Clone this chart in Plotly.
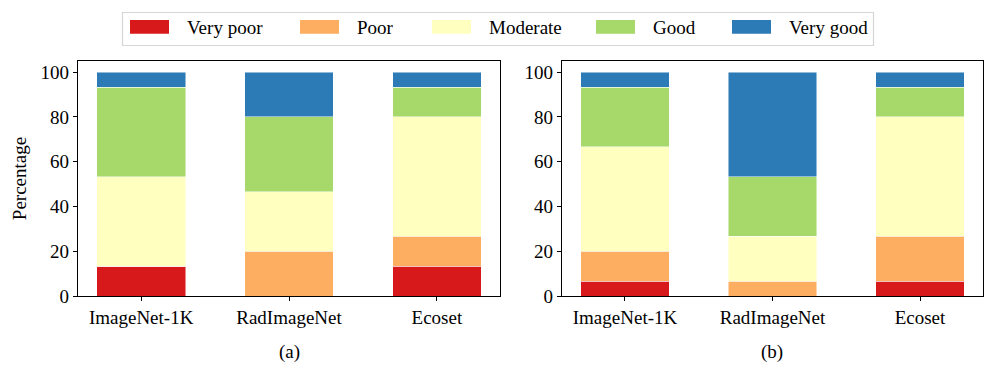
import plotly.graph_objects as go
from plotly.subplots import make_subplots

# data (percent of ratings per category)
datasets = ["ImageNet-1K", "RadImageNet", "Ecoset"]
levels = ["Very poor", "Poor", "Moderate", "Good", "Very good"]
colors = ["#d7191c", "#fdae61", "#ffffbf", "#a6d96a", "#2c7bb6"]

# panel (a)
a_very_poor = [13.33, 0.0, 13.33]
a_poor = [0.0, 20.0, 13.33]
a_moderate = [40.0, 26.67, 53.33]
a_good = [40.0, 33.33, 13.33]
a_very_good = [6.67, 20.0, 6.67]

# panel (b)
b_very_poor = [6.67, 0.0, 6.67]
b_poor = [13.33, 6.67, 20.0]
b_moderate = [46.67, 20.0, 53.33]
b_good = [26.67, 26.67, 13.33]
b_very_good = [6.67, 46.67, 6.67]

panel_a = [a_very_poor, a_poor, a_moderate, a_good, a_very_good]
panel_b = [b_very_poor, b_poor, b_moderate, b_good, b_very_good]

FONT = "Liberation Serif, Times New Roman, serif"
FS = 19
W, H = 996, 374
OFF = 8  # page body margin


# window pixel -> paper coords (plot area spans window y 61..296, x 8..1004)
def px(wx):
    return (wx - OFF) / W


def py(wy):
    return (296 - wy) / 235


fig = make_subplots(rows=1, cols=2)

for col, panel in ((1, panel_a), (2, panel_b)):
    for name, color, vals in zip(levels, colors, panel):
        fig.add_trace(
            go.Bar(
                x=datasets, y=vals, name=name,
                marker=dict(color=color, line=dict(color="rgba(255,255,255,0.6)", width=0.8)),
                width=0.6, showlegend=False,
            ),
            row=1, col=col,
        )

fig.update_layout(
    barmode="stack",
    width=W, height=H,
    margin=dict(l=0, r=0, t=61 - OFF, b=H - (296 - OFF), autoexpand=False),
    plot_bgcolor="white", paper_bgcolor="white",
    font=dict(family=FONT, size=FS, color="black"),
)

axis_common = dict(
    showline=True, linecolor="black", linewidth=1.2, mirror=True,
    ticks="outside", ticklen=4, tickcolor="black", showgrid=False,
    zeroline=False, tickfont=dict(size=FS),
)
fig.update_xaxes(**axis_common, range=[-0.427, 2.427])
fig.update_yaxes(**axis_common, range=[0, 105], tickvals=[0, 20, 40, 60, 80, 100])
fig.update_xaxes(domain=[px(78), px(500)], row=1, col=1)
fig.update_xaxes(domain=[px(562), px(983)], row=1, col=2)
fig.update_yaxes(title_text="Percentage", title_font=dict(size=FS), title_standoff=8, row=1, col=1)

# legend box drawn by hand (matplotlib-style wide swatches)
fig.add_shape(type="rect", xref="paper", yref="paper",
              x0=px(122.5), x1=px(873.5), y0=py(45.5), y1=py(12.5),
              line=dict(color="#d6d6d6", width=1.2), fillcolor="white", layer="above")
swatch_x = [130, 300, 432, 596, 732]
for name, color, sx in zip(levels, colors, swatch_x):
    fig.add_shape(type="rect", xref="paper", yref="paper",
                  x0=px(sx), x1=px(sx + 39), y0=py(33.7), y1=py(20),
                  line=dict(width=0), fillcolor=color, layer="above")
    fig.add_annotation(text=name, x=px(sx + 55), y=py(27), xref="paper", yref="paper",
                       showarrow=False, xanchor="left", yanchor="middle",
                       font=dict(size=FS))

for label, wx in (("(a)", 289), ("(b)", 772)):
    fig.add_annotation(
        text=label, x=px(wx), y=py(352), xref="paper", yref="paper",
        showarrow=False, font=dict(size=FS), xanchor="center", yanchor="middle",
    )

fig.write_html("out.html")
